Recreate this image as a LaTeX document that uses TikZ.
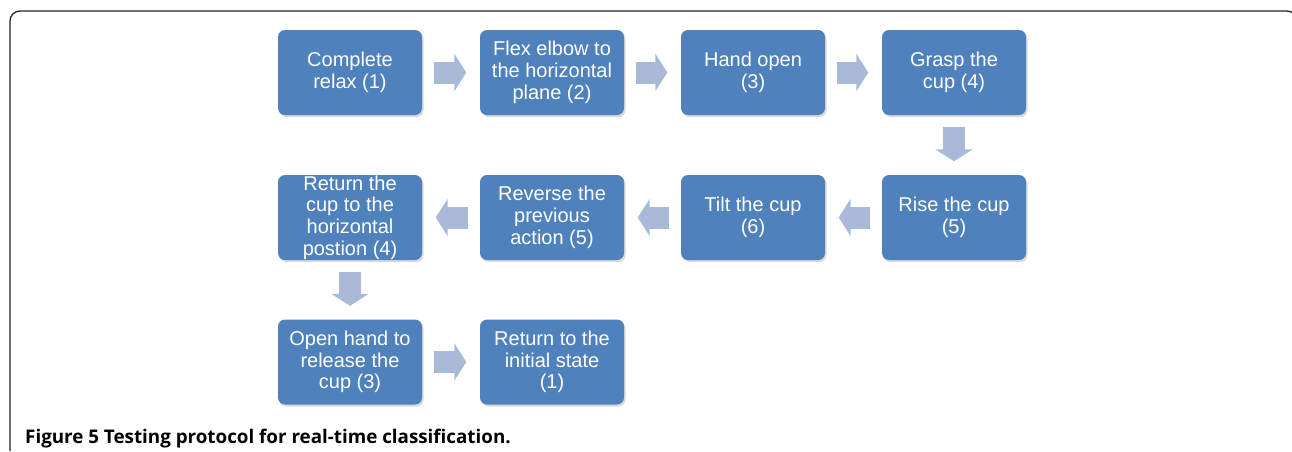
\documentclass[tikz,border=0pt]{standalone}
\usepackage{fontspec}
\setmainfont{Liberation Sans}
\newfontfamily\capfont{Open Sans}
\usetikzlibrary{arrows.meta}
\usetikzlibrary{shadows}
\definecolor{cbox}{RGB}{79,129,189}
\definecolor{carr}{RGB}{168,186,216}
\definecolor{cfr}{RGB}{35,35,35}
\tikzstyle{frame}=[cfr, line width=1.3pt, rounded corners=10pt]
\tikzstyle{stage}=[fill=cbox, text=white, rounded corners=7pt, minimum width=144pt, minimum height=85pt, inner xsep=2pt, inner ysep=0pt, align=center, font=\fontsize{20}{21.7}\selectfont, drop shadow={opacity=0.3, shadow xshift=1.5pt, shadow yshift=-2pt}]
\tikzstyle{flow}=[carr, line width=22pt, shorten <=11.5pt, shorten >=13.5pt, -{Triangle[length=12pt, width=37pt]}]
\tikzstyle{caption}=[anchor=base west, inner sep=0pt, font=\capfont\bfseries\fontsize{18.8}{21}\selectfont]

\begin{document}
\begin{tikzpicture}[x=1pt, y=-1pt]
  \useasboundingbox (0,0) rectangle (1292,451);
  \draw [frame] (10,451) -- (10,11) -- (1297,11) -- (1297,451);

  \node [stage] (relax) at (350,72.5) {Complete\\relax (1)};
  \node [stage] (flex) at (552,72.5) {Flex elbow to\\the horizontal\\plane (2)};
  \node [stage] (open) at (753,72.5) {Hand open\\(3)};
  \node [stage] (grasp) at (954,72.5) {Grasp the\\cup (4)};

  \node [stage] (rise) at (954,217.5) {Rise the cup\\(5)};
  \node [stage] (tilt) at (753,217.5) {Tilt the cup\\(6)};
  \node [stage] (reverse) at (552,217.5) {Reverse the\\previous\\action (5)};
  \node [stage] (back) at (350,217.5) {Return the\\cup to the\\horizontal\\postion (4)};

  \node [stage] (release) at (350,362) {Open hand to\\release the\\cup (3)};
  \node [stage] (initial) at (552,362) {Return to the\\initial state\\(1)};

  \draw [flow] (relax.east) -- (flex.west);
  \draw [flow] (flex.east) -- (open.west);
  \draw [flow] (open.east) -- (grasp.west);
  \draw [flow] (grasp.south) -- (rise.north);
  \draw [flow] (rise.west) -- (tilt.east);
  \draw [flow] (tilt.west) -- (reverse.east);
  \draw [flow] (reverse.west) -- (back.east);
  \draw [flow] (back.south) -- (release.north);
  \draw [flow] (release.east) -- (initial.west);

  \node [caption] (cap) at (25,443) {Figure 5 Testing protocol for real-time classification.};
\end{tikzpicture}
\end{document}
